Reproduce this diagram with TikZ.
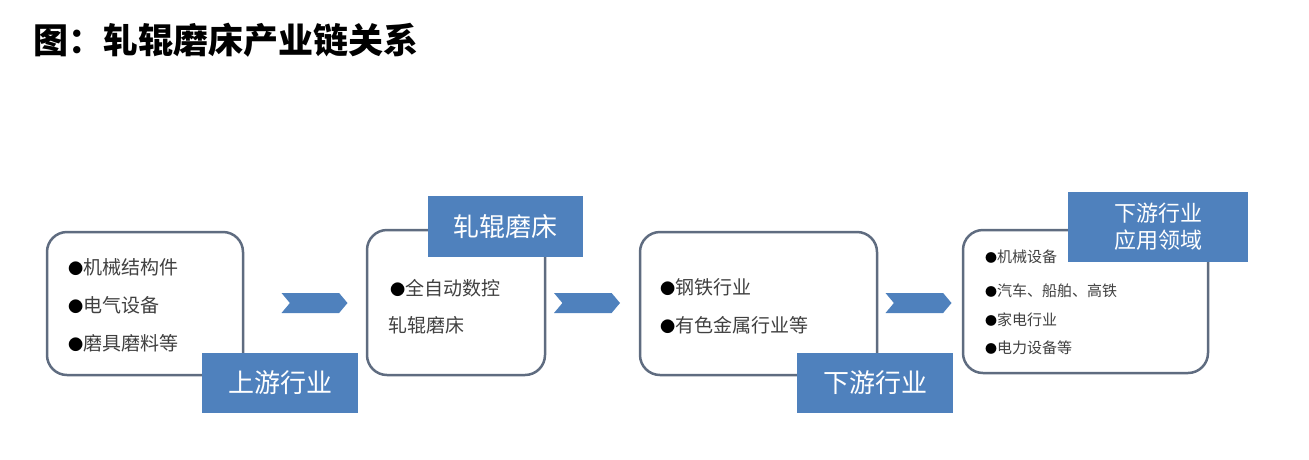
\documentclass[tikz,border=0pt]{standalone}
\usepackage{fontspec}
\newfontfamily\cjk{Noto Sans CJK SC}
\usepackage{xcolor}
\usetikzlibrary{shapes.symbols}
\definecolor{tagblue}{RGB}{79, 129, 189}
\definecolor{boxline}{RGB}{95, 108, 128}
\definecolor{itemgray}{RGB}{64, 64, 64}
\newcommand{\itembul}{{\color{black}\scalebox{0.8}{●}}}

\begin{document}
\begin{tikzpicture}[x=1pt, y=-1pt,
		chainbox/.style={draw=boxline, line width=2.5pt, rounded corners=20pt, fill=white, inner sep=0pt},
		tagbox/.style={fill=tagblue, text=white, inner sep=0pt, align=center, font=\cjk\fontsize{26}{30}\selectfont},
		itemtext/.style={text=itemgray, anchor=west, inner sep=0pt, font=\cjk\fontsize{19}{23}\selectfont},
		chevron/.style={shape=signal, signal to=east, signal from=west, signal pointer angle=100, fill=tagblue, draw=none, inner sep=0pt, minimum width=66pt, minimum height=20pt}]
			\useasboundingbox (0,0) rectangle (1309,459);
			
			\node[anchor=west, inner sep=0pt, font=\cjk\bfseries\fontsize{35}{38}\selectfont] (title) at (33,40) {图：轧辊磨床产业链关系};
			
			% rounded boxes of the chain
			\node[chainbox, minimum width=196pt, minimum height=143pt] (upbox) at (145,303.5) {};
			\node[chainbox, minimum width=178pt, minimum height=145pt] (millbox) at (456,302.5) {};
			\node[chainbox, minimum width=237pt, minimum height=143pt] (downbox) at (758.5,303.5) {};
			\node[chainbox, minimum width=245pt, minimum height=143pt] (usebox) at (1085.5,301.5) {};
			
			% blue tags
			\node[tagbox, minimum width=156pt, minimum height=60pt] (uptag) at (280,383) {上游行业};
			\node[tagbox, minimum width=155pt, minimum height=61pt] (milltag) at (505.5,226.5) {轧辊磨床};
			\node[tagbox, minimum width=156pt, minimum height=60pt] (downtag) at (875,383) {下游行业};
			\node[tagbox, minimum width=180pt, minimum height=70pt, font=\cjk\fontsize{22}{27}\selectfont] (usetag) at (1158,227) {下游行业\\应用领域};
			
			% chevrons between the boxes
			\node[chevron] (arr1) at (314.5,303) {};
			\node[chevron] (arr2) at (587,303) {};
			\node[chevron] (arr3) at (918.5,303) {};
			
			\node[itemtext] (up1) at (68,267) {\itembul 机械结构件};
			\node[itemtext] (up2) at (68,305) {\itembul 电气设备};
			\node[itemtext] (up3) at (68,343) {\itembul 磨具磨料等};
			
			\node[itemtext] (mill1) at (390,288) {\itembul 全自动数控};
			\node[itemtext] (mill2) at (388,325) {轧辊磨床};
			
			\node[itemtext] (down1) at (660,287) {\itembul 钢铁行业};
			\node[itemtext] (down2) at (660,325) {\itembul 有色金属行业等};
			
			\node[itemtext, font=\cjk\fontsize{15}{18}\selectfont] (use1) at (985,257) {\itembul 机械设备};
			\node[itemtext, font=\cjk\fontsize{15}{18}\selectfont] (use2) at (985,291) {\itembul 汽车、船舶、高铁};
			\node[itemtext, font=\cjk\fontsize{15}{18}\selectfont] (use3) at (985,320) {\itembul 家电行业};
			\node[itemtext, font=\cjk\fontsize{15}{18}\selectfont] (use4) at (985,348) {\itembul 电力设备等};
			
\end{tikzpicture}
\end{document}
